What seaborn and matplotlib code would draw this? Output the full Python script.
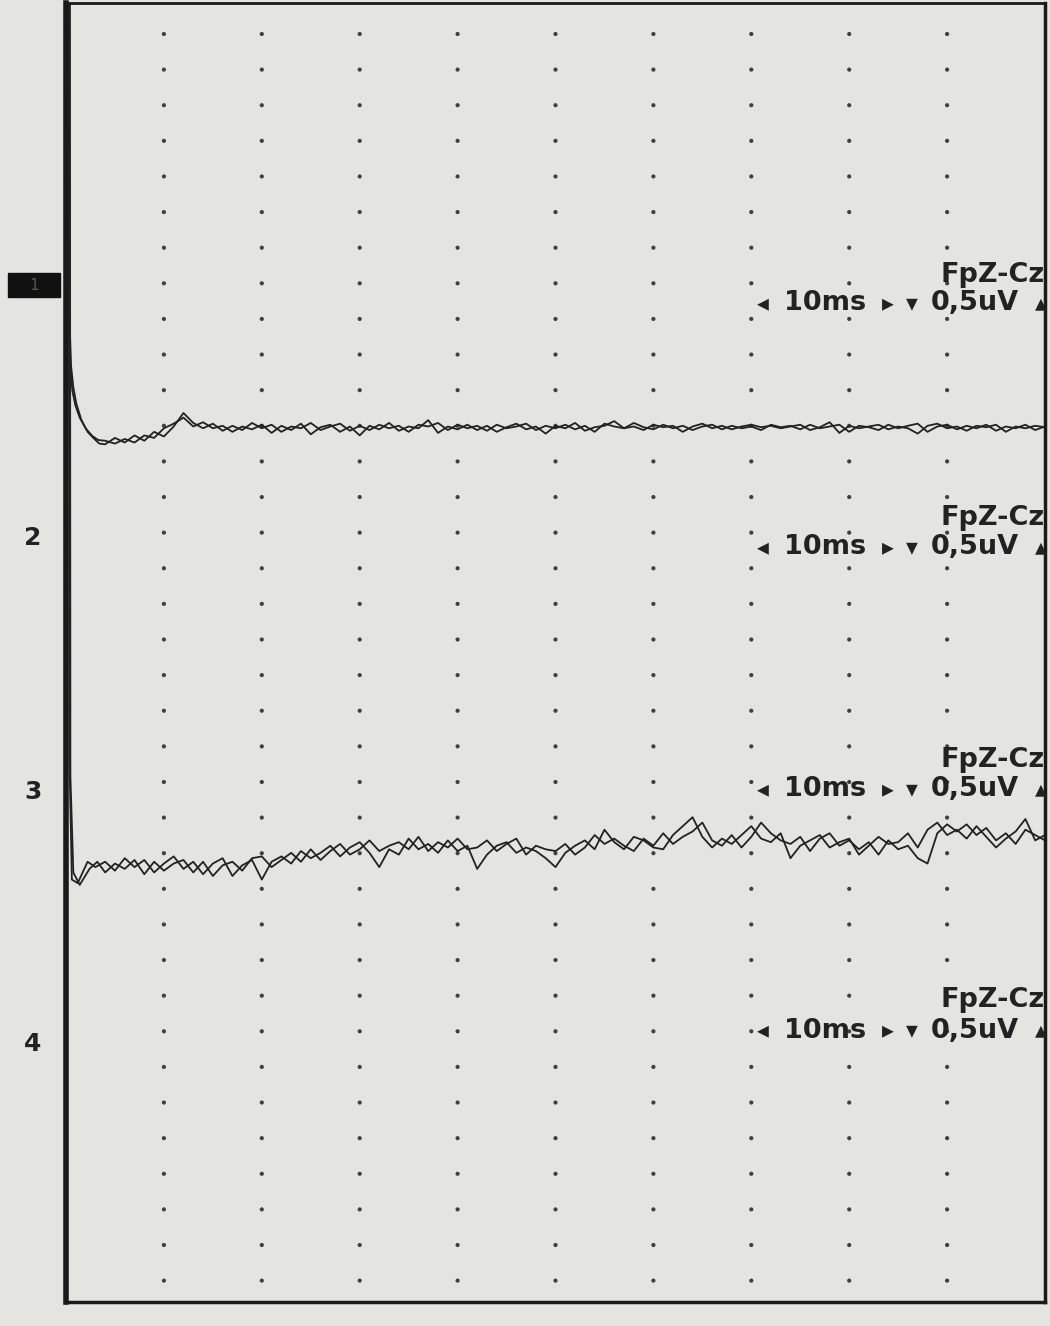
import numpy as np
import pandas as pd
import matplotlib
matplotlib.use("Agg")
import matplotlib.pyplot as plt
from matplotlib.patches import Rectangle
import seaborn as sns

# Datos (tiempo en ms, amplitud en divisiones de la rejilla)
ch1_onset_t_a = [0.30, 0.32, 0.45, 0.65, 0.95, 1.40, 2.00, 2.70, 3.30]
ch1_onset_t_b = [0.35, 0.38, 0.52, 0.75, 1.05, 1.55, 2.20, 2.90, 3.40]
ch1_onset_a = [12.5, 2.8, 1.7, 1.1, 0.70, 0.35, 0.05, -0.17, -0.28]
ch1_onset_b = [12.5, 2.9, 1.8, 1.2, 0.75, 0.30, -0.05, -0.25, -0.38]
ch3_onset_t_a = [0.30, 0.35, 0.60, 1.20, 2.20, 3.00]
ch3_onset_t_b = [0.40, 0.45, 0.75, 1.40, 2.40, 3.20]
ch3_onset_a = [25.0, 3.0, -0.40, -0.50, 0.10, -0.05]
ch3_onset_b = [25.0, 2.5, -0.20, -0.55, -0.10, 0.10]

noise_t = list(range(4, 101))

ch1_a = [-0.30, -0.38, -0.25, -0.35, -0.15, -0.22, 0.05, 0.18, 0.35, 0.10,
         0.22, 0.05, 0.12, -0.05, 0.10, 0.02, 0.15, -0.08, 0.12, 0.00,
         0.18, -0.12, 0.08, 0.15, -0.05, 0.10, -0.15, 0.12, 0.02, 0.20,
         -0.02, 0.10, 0.05, 0.28, -0.08, 0.10, 0.02, 0.15, 0.00, 0.12,
         -0.05, 0.08, 0.18, 0.02, 0.10, -0.10, 0.12, 0.05, 0.20, -0.02,
         0.08, 0.12, 0.25, 0.05, 0.10, 0.00, 0.15, 0.08, 0.12, -0.05,
         0.10, 0.18, 0.05, 0.12, 0.02, 0.10, 0.15, 0.08, 0.12, 0.05,
         0.10, 0.15, 0.00, 0.08, 0.22, -0.08, 0.12, 0.05, 0.10, 0.15,
         0.02, 0.10, 0.05, -0.10, 0.12, 0.18, 0.05, 0.10, -0.02, 0.12,
         0.08, 0.15, -0.05, 0.10, 0.05, 0.12, 0.08]
ch1_b = [-0.40, -0.22, -0.35, -0.15, -0.30, -0.05, -0.18, 0.10, 0.48, 0.20,
         0.05, 0.18, -0.02, 0.12, 0.00, 0.20, 0.05, 0.15, -0.05, 0.10,
         0.05, 0.20, 0.00, 0.10, 0.18, -0.02, 0.12, 0.00, 0.15, 0.05,
         0.12, -0.05, 0.15, 0.10, 0.20, 0.00, 0.15, 0.05, 0.12, -0.02,
         0.15, 0.05, 0.10, 0.18, 0.00, 0.12, 0.05, 0.15, 0.02, 0.12,
         -0.05, 0.18, 0.10, 0.05, 0.20, 0.08, 0.02, 0.15, 0.05, 0.12,
         0.00, 0.10, 0.15, 0.02, 0.12, 0.05, 0.10, 0.00, 0.15, 0.08,
         0.12, 0.02, 0.15, 0.05, 0.10, 0.15, -0.05, 0.12, 0.08, 0.00,
         0.15, 0.05, 0.12, 0.18, -0.05, 0.10, 0.15, 0.02, 0.12, 0.05,
         0.15, -0.02, 0.10, 0.05, 0.15, 0.00, 0.10]
ch3_a = [0.10, -0.15, 0.20, -0.05, 0.15, -0.20, 0.05, 0.25, -0.10, 0.10,
         -0.25, 0.05, 0.20, -0.30, 0.00, 0.15, -0.40, 0.10, 0.25, 0.05,
         0.40, 0.20, 0.35, 0.55, 0.25, 0.50, 0.65, 0.35, -0.05, 0.45,
         0.30, 0.75, 0.45, 0.60, 0.35, 0.70, 0.40, 0.55, -0.10, 0.30,
         0.55, 0.65, 0.35, 0.50, 0.40, 0.20, -0.05, 0.35, 0.55, 0.70,
         0.45, 1.00, 0.65, 0.45, 0.80, 0.70, 0.50, 0.45, 0.85, 1.10,
         1.35, 0.80, 0.50, 0.75, 0.60, 0.85, 1.10, 0.75, 0.65, 0.90,
         0.20, 0.55, 0.70, 0.85, 0.50, 0.65, 0.75, 0.30, 0.55, 0.80,
         0.60, 0.65, 0.90, 0.50, 1.00, 1.20, 0.85, 1.00, 0.75, 1.10,
         0.80, 0.50, 0.75, 0.95, 1.30, 0.70, 0.85]
ch3_b = [-0.20, 0.05, -0.10, 0.15, -0.25, 0.10, -0.15, 0.05, 0.15, -0.20,
         0.10, -0.30, 0.00, 0.10, -0.15, 0.20, 0.25, -0.05, 0.15, 0.35,
         0.10, 0.45, 0.15, 0.40, 0.60, 0.30, 0.45, 0.70, 0.40, 0.55,
         0.65, 0.45, 0.80, 0.40, 0.65, 0.50, 0.75, 0.45, 0.50, 0.70,
         0.40, 0.60, 0.75, 0.30, 0.55, 0.45, 0.40, 0.60, 0.30, 0.50,
         0.85, 0.60, 0.75, 0.55, 0.40, 0.75, 0.55, 0.90, 0.60, 0.80,
         0.95, 1.20, 0.70, 0.55, 0.85, 0.50, 0.80, 1.20, 0.90, 0.70,
         0.60, 0.80, 0.40, 0.75, 0.90, 0.55, 0.70, 0.45, 0.65, 0.30,
         0.70, 0.45, 0.55, 0.20, 0.05, 0.90, 1.15, 0.95, 1.15, 0.85,
         1.05, 0.70, 0.90, 0.60, 1.00, 0.85, 0.70]

# posiciones de los canales (filas de la rejilla, 0 = arriba)
channel_names = ["1", "2", "3", "4"]
channel_label_y = [-7.05, -14.16, -21.29, -28.37]
montage_label = "FpZ-Cz"
montage_y = [-6.77, -13.60, -20.39, -27.13]
scale_y = [-7.56, -14.41, -21.21, -27.98]
ch1_base = -11.12
ch3_base = -23.34

paper = "#e4e4e1"
ink = "#222222"

# armar tabla larga de trazos
rows = []
traces = {
    "c1a": (ch1_onset_t_a, ch1_onset_a, ch1_a, ch1_base),
    "c1b": (ch1_onset_t_b, ch1_onset_b, ch1_b, ch1_base),
    "c3a": (ch3_onset_t_a, ch3_onset_a, ch3_a, ch3_base),
    "c3b": (ch3_onset_t_b, ch3_onset_b, ch3_b, ch3_base),
}
for name, (ot, ov, nv, base) in traces.items():
    for t, v in zip(ot + noise_t, ov + nv):
        rows.append({"trace": name, "t": t, "y": base + v})
df = pd.DataFrame(rows)

# rejilla de puntos
grid = pd.DataFrame([(x, -r) for x in range(10, 100, 10) for r in range(36)],
                    columns=["t", "y"])

sns.set_theme(style="white")
plt.rcParams["font.family"] = ["DejaVu Sans"]

fig = plt.figure(figsize=(10.5, 13.26), dpi=100, facecolor=paper)
ax = fig.add_axes([66 / 1050, 1 - 1302 / 1326, 979 / 1050, 1299 / 1326])
ax.set_facecolor(paper)

sns.scatterplot(data=grid, x="t", y="y", s=9, color="#404040",
                edgecolor="none", ax=ax, legend=False)
sns.lineplot(data=df, x="t", y="y", units="trace", estimator=None,
             sort=False, color=ink, linewidth=1.3, ax=ax, legend=False)

ax.set_xlim(0, 100)
ax.set_ylim(-35.6, 0.87)
ax.set_xticks([])
ax.set_yticks([])
ax.set_xlabel("")
ax.set_ylabel("")
for side, lw in [("left", 4.0), ("bottom", 2.5), ("right", 2.5), ("top", 2.0)]:
    ax.spines[side].set_visible(True)
    ax.spines[side].set_color("#1a1a1a")
    ax.spines[side].set_linewidth(lw)

fs = 19.5
tri = 17
for i, name in enumerate(channel_names):
    y = channel_label_y[i]
    if i == 0:
        ax.add_patch(Rectangle((-5.9, y - 0.34), 5.3, 0.68, color="#111111",
                               clip_on=False, zorder=5))
        ax.text(-3.3, y, name, color="#555555", fontsize=11, ha="center",
                va="center", clip_on=False, zorder=6)
    else:
        ax.text(-3.4, y, name, color=ink, fontsize=18, fontweight="bold",
                ha="center", va="center", clip_on=False)

    ax.text(100.0, montage_y[i], montage_label, color=ink, fontsize=fs,
            fontweight="bold", ha="right", va="center", clip_on=False)
    sy = scale_y[i]
    ax.text(71.2, sy, "◂", color=ink, fontsize=tri, ha="center", va="center")
    ax.text(73.3, sy, "10ms", color=ink, fontsize=fs, fontweight="bold",
            ha="left", va="center")
    ax.text(84.0, sy, "▸", color=ink, fontsize=tri, ha="center", va="center")
    ax.text(86.4, sy, "▾", color=ink, fontsize=tri, ha="center", va="center")
    ax.text(88.3, sy, "0,5uV", color=ink, fontsize=fs, fontweight="bold",
            ha="left", va="center", clip_on=False)
    ax.text(99.6, sy, "▴", color=ink, fontsize=tri, ha="center", va="center",
            clip_on=False)

fig.savefig("out.png", dpi=100, facecolor=paper)
